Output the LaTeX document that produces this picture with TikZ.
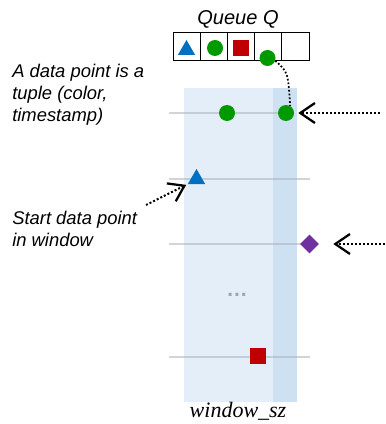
\documentclass[tikz,border=0pt]{standalone}
\usepackage{fontspec}
\newfontfamily\arialf{Liberation Sans}
\newfontfamily\serift{Liberation Serif}
\usetikzlibrary{arrows.meta,shapes.geometric}
\definecolor{winbg}{RGB}{227,238,248}
\definecolor{winstrip}{RGB}{206,225,242}
\definecolor{tgray}{RGB}{170,178,186}
\definecolor{mgreen}{RGB}{0,153,0}
\definecolor{mblue}{RGB}{0,112,192}
\definecolor{mred}{RGB}{192,0,0}
\definecolor{mpurple}{RGB}{112,48,160}
\definecolor{dotgray}{RGB}{165,165,165}
\begin{document}
\begin{tikzpicture}[x=0.75pt,y=-0.75pt,
  cell/.style={draw=black, line width=0.75pt, minimum width=20.4pt, minimum height=21pt, inner sep=0pt},
  gdot/.style={circle, fill=mgreen, minimum size=12pt, inner sep=0pt},
  btri/.style={regular polygon, regular polygon sides=3, fill=mblue, minimum size=15pt, inner sep=0pt},
  rsq/.style={rectangle, fill=mred, minimum size=12pt, inner sep=0pt},
  pdia/.style={diamond, fill=mpurple, minimum size=14.25pt, inner sep=0pt},
  tline/.style={draw=tgray, line width=1.5pt, opacity=0.55},
  dotline/.style={line width=1.3pt, dash pattern=on 1.3pt off 1.5pt},
  dotarrow/.style={line width=1.5pt, dash pattern=on 1.5pt off 1.5pt, -{Straight Barb[length=11pt,width=15pt,line width=1.7pt]}},
  lbl/.style={font=\arialf\fontsize{13.8}{16.5}\selectfont\itshape, align=left, inner sep=0pt}
]
\useasboundingbox (0,0) rectangle (385,424);
% window
\fill[winbg] (184,88) rectangle (297,402);
\fill[winstrip] (273,88) rectangle (297,402);
% time lines
\draw[tline] (169,113) -- (290,113);
\draw[tline] (169,179) -- (310,179);
\draw[tline] (169,244) -- (310,244);
\draw[tline] (169,357) -- (310,357);
% queue
\node[cell] (c1) at (186.6,47) {};
\node[cell] (c2) at (213.8,47) {};
\node[cell] (c3) at (241,47) {};
\node[cell] (c4) at (268.2,47) {};
\node[cell] (c5) at (295.4,47) {};
\node[font=\arialf\fontsize{15}{17}\selectfont\itshape, anchor=base] (qt) at (238,25) {Queue Q};
\node[btri] (qtri) at (186.5,50) {};
\node[gdot] (qg1) at (215,48) {};
\node[rsq] (qsq) at (241,48) {};
\node[gdot] (qg) at (267.5,58) {};
% window points
\node[gdot] (wg1) at (227,113) {};
\node[gdot] (wg2) at (286,113) {};
\node[btri] (wtri) at (196.5,179) {};
\node[pdia] (dm) at (309.5,244) {};
\node[rsq] (wsq) at (258,356) {};
\node[text=dotgray, font=\arialf\bfseries\fontsize{16}{18}\selectfont] (dots) at (237,295) {…};
% connectors
\draw[dotline] (qg.-20) .. controls (288,72) .. (wg2.60);
\coordinate (r1) at (380,113);
\coordinate (r2) at (385,244);
\coordinate (l1) at (146,205);
\draw[dotarrow, shorten >=3pt] (r1) -- (wg2.east);
\draw[dotarrow, shorten >=10.5pt] (r2) -- (dm.east);
\draw[dotarrow, shorten >=1pt] (l1) -- (wtri.corner 2);
% labels
\node[lbl, anchor=north west] (t1) at (12,64) {A data point is a\\tuple (color,\\timestamp)};
\node[lbl, anchor=north west] (t2) at (12,211) {Start data point\\in window};
\node[font=\serift\fontsize{16.5}{18}\selectfont\itshape, anchor=base] (wsz) at (238,417) {window\_sz};
\end{tikzpicture}
\end{document}
